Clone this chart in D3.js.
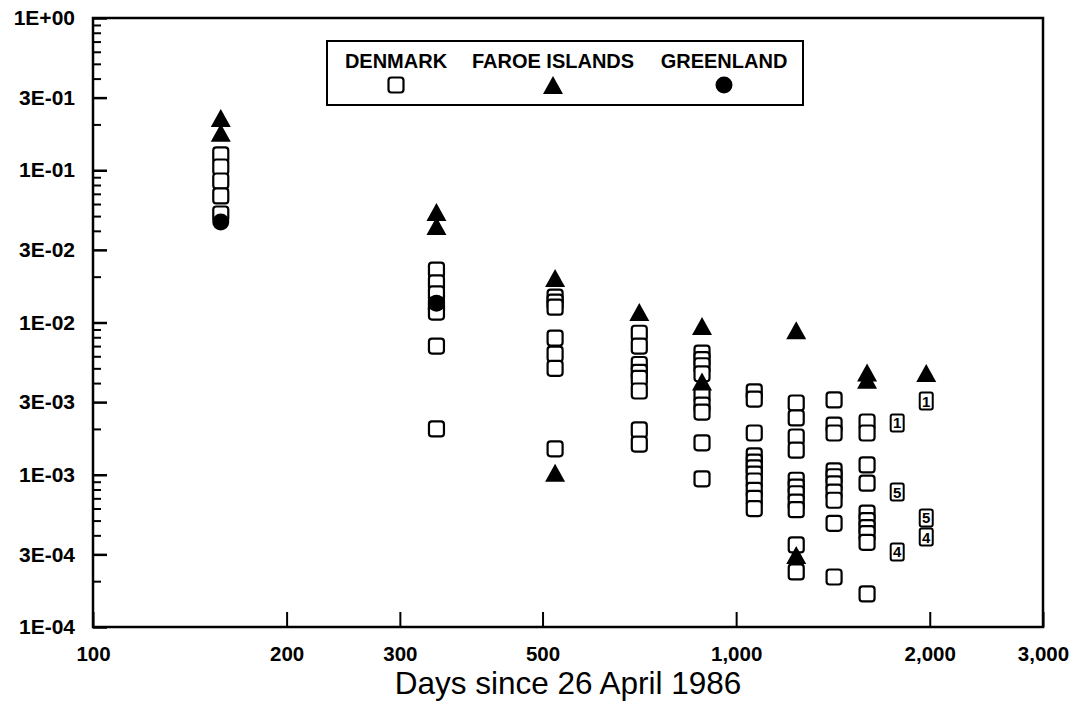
<!DOCTYPE html>
<html>
<head>
<meta charset="utf-8">
<script src="https://cdn.jsdelivr.net/npm/d3@7"></script>
<style>
  body { margin: 0; background: #fff; }
  svg { display: block; font-family: "Liberation Sans", Arial, sans-serif; }
</style>
</head>
<body>
<div id="chart"></div>
<script>
// Denmark: one list of values per sampling day
const denmarkDays = [158, 342, 523, 707, 885, 1067, 1240, 1420, 1598];
const denmarkValues = [
  [0.126, 0.105, 0.085, 0.0678, 0.0516],
  [0.0221, 0.0182, 0.0154, 0.0130, 0.0117, 0.0070, 0.0020],
  [0.0147, 0.0136, 0.0126, 0.0079, 0.0062, 0.0050, 0.00148],
  [0.0085, 0.0070, 0.0053, 0.0047, 0.0043, 0.00355, 0.00197, 0.00159],
  [0.0063, 0.0057, 0.0052, 0.0046, 0.00334, 0.00287, 0.00258, 0.00162, 0.00094],
  [0.0035, 0.00314, 0.00188, 0.00133, 0.00121, 0.00111, 0.00101, 0.00091, 0.00079, 0.0007, 0.0006],
  [0.00296, 0.00236, 0.00177, 0.00145, 0.00092, 0.00083, 0.00075, 0.00066, 0.00059, 0.000346, 0.00023],
  [0.0031, 0.00212, 0.00188, 0.00106, 0.00097, 0.00087, 0.00077, 0.00068, 0.00048, 0.000213],
  [0.00222, 0.00188, 0.00116, 0.00088, 0.00056, 0.0005, 0.00045, 0.00041, 0.00036, 0.000165],
];

// Denmark points marked with a sample count
const countDays = [1780, 1780, 1780, 1975, 1975, 1975];
const countValues = [0.00219, 0.00077, 0.000311, 0.00305, 0.00052, 0.00039];
const countLabels = ["1", "5", "4", "1", "5", "4"];

const faroeDays = [158, 158, 342, 342, 523, 523, 707, 885, 885, 1240, 1240, 1598, 1598, 1975];
const faroeValues = [0.22, 0.176, 0.0532, 0.043, 0.0196, 0.00103, 0.0117, 0.0095, 0.0041, 0.0089, 0.000297, 0.0047, 0.0042, 0.00466];

const greenlandDays = [158, 342];
const greenlandValues = [0.0457, 0.0134];

const yTicks = [1, 0.3, 0.1, 0.03, 0.01, 0.003, 0.001, 0.0003, 0.0001];
const yTickLabels = ["1E+00", "3E-01", "1E-01", "3E-02", "1E-02", "3E-03", "1E-03", "3E-04", "1E-04"];
const xTicks = [100, 200, 300, 500, 1000, 2000, 3000];

const width = 1077, height = 709;
const plot = { left: 93, right: 1043, top: 18, bottom: 627 };

const x = d3.scaleLog().domain([100, 3000]).range([plot.left, plot.right]);
const y = d3.scaleLog().domain([1e-4, 1]).range([plot.bottom, plot.top]);

const svg = d3.select("#chart").append("svg")
  .attr("width", width)
  .attr("height", height);

// minor y ticks
const minorY = [];
for (let k = -4; k < 0; k++) {
  for (let m = 2; m <= 9; m++) if (m !== 3) minorY.push(m * Math.pow(10, k));
}
svg.append("g")
  .attr("transform", `translate(${plot.left},0)`)
  .call(d3.axisLeft(y).tickValues(minorY).tickSize(-8).tickFormat(""))
  .call(g => g.select(".domain").remove())
  .selectAll("line").attr("stroke", "#000").attr("stroke-width", 2);

svg.append("g")
  .attr("transform", `translate(${plot.left},0)`)
  .call(d3.axisLeft(y).tickValues(yTicks).tickSize(-14).tickPadding(18)
    .tickFormat((d, i) => yTickLabels[i]))
  .call(g => g.select(".domain").remove())
  .call(g => g.selectAll("line").attr("stroke", "#000").attr("stroke-width", 2.5))
  .call(g => g.selectAll("text").attr("fill", "#000").attr("font-size", 21).attr("font-weight", "bold"));

svg.append("g")
  .attr("transform", `translate(0,${plot.bottom})`)
  .call(d3.axisBottom(x).tickValues(xTicks).tickSize(-15).tickPadding(19)
    .tickFormat(d3.format(",")))
  .call(g => g.select(".domain").remove())
  .call(g => g.selectAll("line").attr("stroke", "#000").attr("stroke-width", 2))
  .call(g => g.selectAll("text").attr("fill", "#000").attr("font-size", 20.5).attr("font-weight", "bold"));

// frame
svg.append("rect")
  .attr("x", plot.left).attr("y", plot.top)
  .attr("width", plot.right - plot.left).attr("height", plot.bottom - plot.top)
  .attr("fill", "none").attr("stroke", "#000").attr("stroke-width", 2.5);

svg.append("text")
  .attr("x", 568)
  .attr("y", 694)
  .attr("text-anchor", "middle")
  .attr("font-size", 31.5)
  .attr("fill", "#000")
  .text("Days since 26 April 1986");

const trianglePath = "M0,-9L10,9L-10,9Z";

function drawSquare(g, cx, cy) {
  g.append("rect")
    .attr("x", cx - 7.5).attr("y", cy - 7.5)
    .attr("width", 15).attr("height", 15)
    .attr("rx", 3)
    .attr("fill", "#fff").attr("stroke", "#000").attr("stroke-width", 2.2);
}
function drawTriangle(g, cx, cy) {
  g.append("path").attr("d", trianglePath)
    .attr("transform", `translate(${cx},${cy})`)
    .attr("fill", "#000");
}
function drawCircle(g, cx, cy) {
  g.append("circle").attr("cx", cx).attr("cy", cy).attr("r", 8.5).attr("fill", "#000");
}

const marks = svg.append("g");

const denmarkPoints = denmarkDays.flatMap((d, i) => denmarkValues[i].map(v => ({ day: d, value: v })));
denmarkPoints.forEach(p => drawSquare(marks, x(p.day), y(p.value)));

countDays.forEach((d, i) => {
  const cx = x(d), cy = y(countValues[i]);
  marks.append("rect")
    .attr("x", cx - 6.5).attr("y", cy - 8.5)
    .attr("width", 13).attr("height", 17).attr("rx", 2)
    .attr("fill", "#fff").attr("stroke", "#000").attr("stroke-width", 2);
  marks.append("text")
    .attr("x", cx).attr("y", cy + 5.5)
    .attr("text-anchor", "middle")
    .attr("font-size", 15).attr("font-weight", "bold")
    .text(countLabels[i]);
});

greenlandDays.forEach((d, i) => drawCircle(marks, x(d), y(greenlandValues[i])));
faroeDays.forEach((d, i) => drawTriangle(marks, x(d), y(faroeValues[i])));

// legend
const legend = svg.append("g");
legend.append("rect")
  .attr("x", 327).attr("y", 41).attr("width", 476).attr("height", 64)
  .attr("fill", "#fff").attr("stroke", "#000").attr("stroke-width", 2);
const legendItems = [
  { name: "DENMARK", cx: 396, draw: drawSquare },
  { name: "FAROE ISLANDS", cx: 553, draw: drawTriangle },
  { name: "GREENLAND", cx: 724, draw: drawCircle },
];
legendItems.forEach(item => {
  legend.append("text")
    .attr("x", item.cx).attr("y", 68)
    .attr("text-anchor", "middle")
    .attr("font-size", 20).attr("font-weight", "bold")
    .text(item.name);
  item.draw(legend, item.cx, 85);
});
</script>
</body>
</html>
